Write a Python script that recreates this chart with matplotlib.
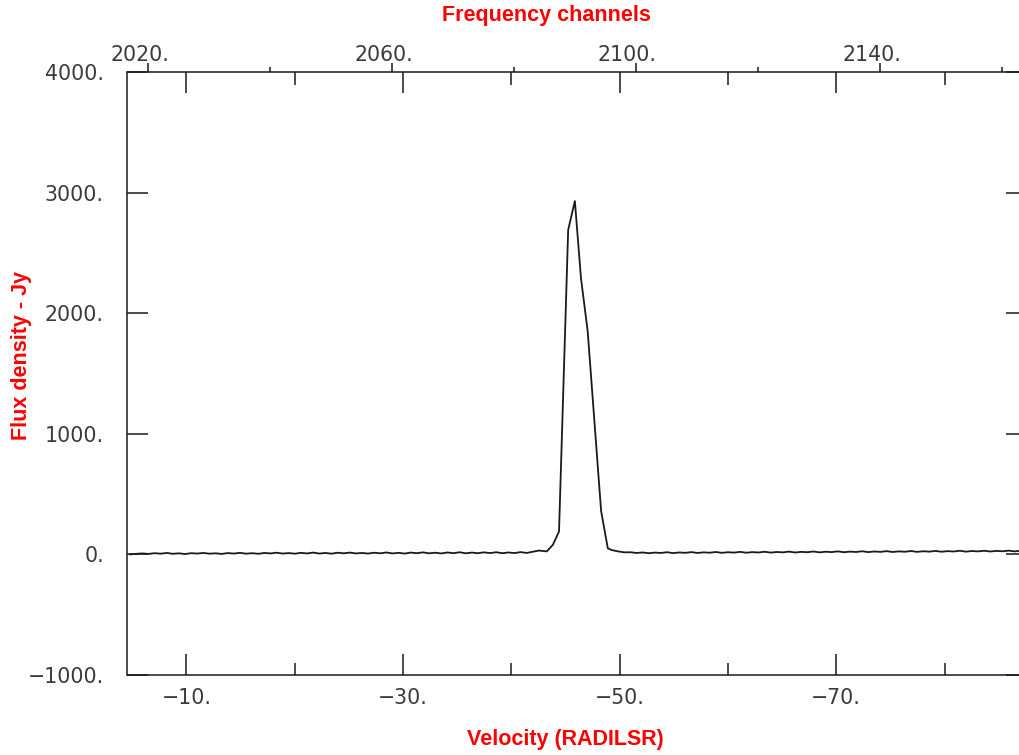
#=======================#
# Libraries importation #
#=======================#

import numpy as np
import matplotlib
matplotlib.use("Agg")
import matplotlib.pyplot as plt
from matplotlib.ticker import FixedLocator, FuncFormatter
from matplotlib.transforms import ScaledTranslation

#==================#
# Global variables #
#==================#

LINE_COLOR = "#1a1a1a"
TEXT_COLOR = "#3a3a3a"
TITLE_COLOR = "#ff0000"

# channel <-> velocity (km/s) relation
REF_CHANNEL = 2020.0
REF_VELOCITY = -6.49
CHANNEL_WIDTH = 0.5633

CHANNEL_LIMITS = (2016.56, 2162.87)
FLUX_LIMITS = (-1000, 4000)

#======#
# Data #
#======#

# baseline before the line (one value per channel, 2017 -> 2084)
left_channels = np.arange(2017, 2085)
left_flux = [0, 5, 8, 4, 10, 6, 12, 5, 9, 3, 10, 7, 12, 6, 9, 4, 11, 7, 13, 6,
             10, 5, 12, 8, 14, 7, 11, 6, 13, 8, 15, 7, 12, 6, 14, 9, 15, 8, 12, 7,
             14, 9, 16, 8, 13, 7, 15, 10, 17, 9, 14, 8, 16, 10, 18, 9, 15, 10, 17, 11,
             18, 10, 16, 11, 19, 12, 22, 32]

# the maser line itself
peak_channels = [2085.3, 2086.3, 2087.3, 2088.8, 2089.9, 2090.9, 2092.0, 2094.2, 2095.3]
peak_flux = [25, 80, 190, 2690, 2930, 2290, 1850, 360, 50]

# baseline after the line (2096 -> 2163)
right_channels = np.arange(2096, 2164)
right_flux = [35, 25, 17, 18, 12, 16, 10, 15, 12, 18, 11, 16, 13, 19, 12, 17, 14, 20, 13, 18,
              15, 21, 14, 19, 16, 22, 15, 20, 17, 23, 16, 21, 18, 24, 17, 22, 19, 25, 18, 23,
              20, 26, 19, 24, 21, 27, 20, 25, 22, 28, 21, 26, 23, 29, 22, 27, 24, 30, 23, 28,
              25, 30, 24, 29, 26, 31, 25, 30]

flux_ticks = [-1000, 0, 1000, 2000, 3000, 4000]
velocity_major = [-10, -30, -50, -70]
velocity_minor = [-20, -40, -60, -80]
channel_major = [2020, 2060, 2100, 2140]
channel_minor = [2040, 2080, 2120, 2160]

#=========#
# Helpers #
#=========#

def ch2vel(ch):
    return REF_VELOCITY - CHANNEL_WIDTH * (np.asarray(ch, dtype=float) - REF_CHANNEL)

def vel2ch(v):
    return REF_CHANNEL + (REF_VELOCITY - np.asarray(v, dtype=float)) / CHANNEL_WIDTH

def dotted(v, pos=None):
    return f"{v:.0f}.".replace("-", "\u2212")

#==========#
# Plotting #
#==========#

channels = np.concatenate([left_channels, peak_channels, right_channels])
flux = np.concatenate([left_flux, peak_flux, right_flux])

fig = plt.figure(figsize=(10.2, 7.55), dpi=100)
ax = fig.add_axes([127.5 / 1020, 80 / 755, (1020 - 127.5) / 1020, (675 - 72) / 755])

ax.plot(channels, flux, color=LINE_COLOR, lw=1.3)
ax.set_xlim(*CHANNEL_LIMITS)
ax.set_ylim(*FLUX_LIMITS)

for side in ("top", "bottom", "left"):
    ax.spines[side].set_linewidth(1.1)
    ax.spines[side].set_color(LINE_COLOR)
ax.spines["right"].set_visible(False)

# channel axis on top, ticks outward
ax.xaxis.tick_top()
ax.xaxis.set_major_locator(FixedLocator(channel_major))
ax.xaxis.set_minor_locator(FixedLocator(channel_minor))
ax.xaxis.set_major_formatter(FuncFormatter(dotted))
ax.tick_params(axis="x", which="major", direction="out", length=6.5, width=1.1,
               color=LINE_COLOR, labelsize=14.8, labelcolor=TEXT_COLOR, pad=-1.5)
ax.tick_params(axis="x", which="minor", direction="out", length=3.5, width=1.1,
               color=LINE_COLOR)

# flux axis on the left, ticks inward
ax.yaxis.set_major_locator(FixedLocator(flux_ticks))
ax.yaxis.set_major_formatter(FuncFormatter(dotted))
ax.tick_params(axis="y", direction="in", length=15, width=1.1, color=LINE_COLOR,
               labelsize=14.8, labelcolor=TEXT_COLOR, pad=17)

# short ticks on the (cut off) right side
right = ax.secondary_yaxis("right")
right.spines["right"].set_visible(False)
right.yaxis.set_major_locator(FixedLocator(flux_ticks))
right.tick_params(direction="in", length=10, width=1.1, color=LINE_COLOR, labelright=False)

# velocity axis on the bottom
bottom = ax.secondary_xaxis("bottom", functions=(ch2vel, vel2ch))
bottom.spines["bottom"].set_visible(False)
bottom.xaxis.set_major_locator(FixedLocator(velocity_major))
bottom.xaxis.set_minor_locator(FixedLocator(velocity_minor))
bottom.xaxis.set_major_formatter(FuncFormatter(dotted))
bottom.tick_params(which="major", direction="in", length=15, width=1.1, color=LINE_COLOR,
                   labelsize=14.8, labelcolor=TEXT_COLOR, pad=9)
bottom.tick_params(which="minor", direction="in", length=8.6, width=1.1, color=LINE_COLOR)

# velocity ticks repeated inside the top edge
top_vel = ax.secondary_xaxis("top", functions=(ch2vel, vel2ch))
top_vel.spines["top"].set_visible(False)
top_vel.xaxis.set_major_locator(FixedLocator(velocity_major))
top_vel.xaxis.set_minor_locator(FixedLocator(velocity_minor))
top_vel.tick_params(which="major", direction="in", length=15, width=1.1, color=LINE_COLOR,
                    labeltop=False)
top_vel.tick_params(which="minor", direction="in", length=9, width=1.1, color=LINE_COLOR)

# titles
title_font = dict(color=TITLE_COLOR, fontsize=15.5, fontweight="bold",
                  family=["Liberation Sans", "DejaVu Sans"])
fig.text(546 / 1020, 1 - 15 / 755, "Frequency channels", ha="center", va="center", **title_font)
fig.text(565 / 1020, 1 - 740 / 755, "Velocity (RADILSR)", ha="center", va="center", **title_font)
fig.text(22 / 1020, 1 - 356 / 755, "Flux density - Jy", ha="center", va="center",
         rotation=90, **title_font)

# channel labels sit a little left of their ticks in the original
fig.canvas.draw()
shift = ScaledTranslation(-9 / 100, 0, fig.dpi_scale_trans)
for lbl in ax.xaxis.get_ticklabels():
    lbl.set_transform(lbl.get_transform() + shift)

fig.savefig("out.png", dpi=100, facecolor="white")
